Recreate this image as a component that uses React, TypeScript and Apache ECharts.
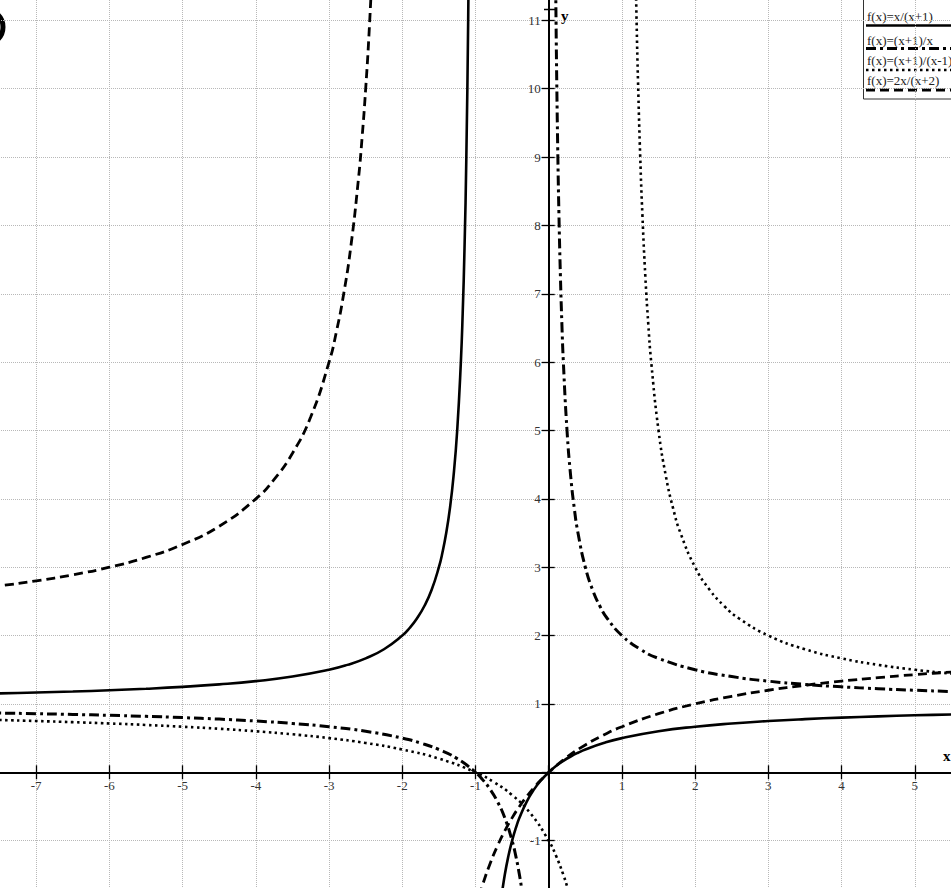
import React, { useEffect, useRef } from "react";
import * as echarts from "echarts";

// f(x) = x/(x+1)
const solidLeft: [number, number][] = [
  [-8, 1.1429], [-7.5, 1.1538], [-7, 1.1667], [-6.5, 1.1818], [-6, 1.2], [-5.5, 1.2222],
  [-5, 1.25], [-4.5, 1.2857], [-4, 1.3333], [-3.5, 1.4], [-3, 1.5], [-2.75, 1.5714],
  [-2.5, 1.6667], [-2.25, 1.8], [-2, 2], [-1.9, 2.1111], [-1.8, 2.25], [-1.7, 2.4286],
  [-1.6, 2.6667], [-1.5, 3], [-1.45, 3.2222], [-1.4, 3.5], [-1.35, 3.8571], [-1.3, 4.3333],
  [-1.25, 5], [-1.2, 6], [-1.175, 6.7143], [-1.15, 7.6667], [-1.125, 9], [-1.1, 11], [-1.09, 12.111],
];
const solidRight: [number, number][] = [
  [-0.65, -1.8571], [-0.6, -1.5], [-0.55, -1.2222], [-0.5, -1], [-0.45, -0.8182], [-0.4, -0.6667],
  [-0.3, -0.4286], [-0.2, -0.25], [-0.1, -0.1111], [0, 0], [0.1, 0.0909], [0.2, 0.1667],
  [0.3, 0.2308], [0.4, 0.2857], [0.5, 0.3333], [0.75, 0.4286], [1, 0.5], [1.5, 0.6],
  [2, 0.6667], [2.5, 0.7143], [3, 0.75], [3.5, 0.7778], [4, 0.8], [4.5, 0.8182], [5, 0.8333],
  [5.5, 0.8462], [6, 0.8571],
];

// f(x) = (x+1)/x
const dashDotLeft: [number, number][] = [
  [-8, 0.875], [-7.5, 0.8667], [-7, 0.8571], [-6.5, 0.8462], [-6, 0.8333], [-5.5, 0.8182],
  [-5, 0.8], [-4.5, 0.7778], [-4, 0.75], [-3.5, 0.7143], [-3, 0.6667], [-2.5, 0.6], [-2, 0.5],
  [-1.75, 0.4286], [-1.5, 0.3333], [-1.25, 0.2], [-1, 0], [-0.9, -0.1111], [-0.8, -0.25],
  [-0.7, -0.4286], [-0.6, -0.6667], [-0.5, -1], [-0.45, -1.2222], [-0.4, -1.5], [-0.36, -1.7778],
  [-0.34, -1.9412],
];
const dashDotRight: [number, number][] = [
  [0.09, 12.111], [0.1, 11], [0.11, 10.0909], [0.125, 9], [0.14, 8.1429], [0.16, 7.25],
  [0.18, 6.5556], [0.2, 6], [0.25, 5], [0.3, 4.3333], [0.35, 3.8571], [0.4, 3.5], [0.5, 3],
  [0.6, 2.6667], [0.7, 2.4286], [0.8, 2.25], [1, 2], [1.25, 1.8], [1.5, 1.6667], [2, 1.5],
  [2.5, 1.4], [3, 1.3333], [3.5, 1.2857], [4, 1.25], [4.5, 1.2222], [5, 1.2], [5.5, 1.1818],
  [6, 1.1667],
];

// f(x) = (x+1)/(x-1)
const dottedLeft: [number, number][] = [
  [-8, 0.7778], [-7.5, 0.7647], [-7, 0.75], [-6.5, 0.7333], [-6, 0.7143], [-5.5, 0.6923],
  [-5, 0.6667], [-4.5, 0.6364], [-4, 0.6], [-3.5, 0.5556], [-3, 0.5], [-2.5, 0.4286],
  [-2, 0.3333], [-1.5, 0.2], [-1, 0], [-0.75, -0.1429], [-0.5, -0.3333], [-0.25, -0.6],
  [0, -1], [0.1, -1.2222], [0.2, -1.5], [0.25, -1.6667], [0.3, -1.8571],
];
const dottedRight: [number, number][] = [
  [1.18, 12.111], [1.2, 11], [1.22, 10.0909], [1.25, 9], [1.28, 8.1429], [1.32, 7.25],
  [1.36, 6.5556], [1.4, 6], [1.5, 5], [1.6, 4.3333], [1.7, 3.8571], [1.8, 3.5], [2, 3],
  [2.2, 2.6667], [2.4, 2.4286], [2.6, 2.25], [3, 2], [3.5, 1.8], [4, 1.6667], [4.5, 1.5714],
  [5, 1.5], [5.5, 1.4444], [6, 1.4],
];

// f(x) = 2x/(x+2)
const dashedLeft: [number, number][] = [
  [-8, 2.6667], [-7.5, 2.7273], [-7, 2.8], [-6.5, 2.8889], [-6, 3], [-5.5, 3.1429],
  [-5, 3.3333], [-4.5, 3.6], [-4, 4], [-3.75, 4.2857], [-3.5, 4.6667], [-3.25, 5.2], [-3, 6],
  [-2.9, 6.4444], [-2.8, 7], [-2.7, 7.7143], [-2.6, 8.6667], [-2.55, 9.2727], [-2.5, 10],
  [-2.45, 10.8889], [-2.4, 12],
];
const dashedRight: [number, number][] = [
  [-0.95, -1.8095], [-0.9, -1.6364], [-0.8, -1.3333], [-0.7, -1.0769], [-0.6, -0.8571],
  [-0.5, -0.6667], [-0.4, -0.5], [-0.3, -0.3529], [-0.2, -0.2222], [-0.1, -0.1053], [0, 0],
  [0.25, 0.2222], [0.5, 0.4], [0.75, 0.5455], [1, 0.6667], [1.5, 0.8571], [2, 1],
  [2.5, 1.1111], [3, 1.2], [3.5, 1.2727], [4, 1.3333], [4.5, 1.3846], [5, 1.4286],
  [5.5, 1.4667], [6, 1.5],
];

const legendNames = ["f(x)=x/(x+1)", "f(x)=(x+1)/x", "f(x)=(x+1)/(x-1)", "f(x)=2x/(x+2)"];

const X_MIN = -8;
const X_MAX = 6;
const Y_MIN = -2;
const Y_MAX = 12;

// The plotting area runs a little past the visible window so that the
// edges fall between whole-unit grid lines; the window crops it.
const VIEW_W = 951;
const VIEW_H = 888;
const OX = 37;
const OY = 48;
const PLOT_W = 1025;
const PLOT_H = 957;

const SERIF = '"Liberation Serif", "Times New Roman", serif';

const styles: { width: number; type: any }[] = [
  { width: 2.6, type: "solid" },
  { width: 3, type: [10, 4, 3, 4] },
  { width: 2.6, type: [2.5, 3.5] },
  { width: 2.8, type: [9, 5] },
];

export default function App() {
  const ref = useRef<HTMLDivElement>(null);

  useEffect(() => {
    if (!ref.current) return;
    const chart = echarts.init(ref.current, undefined, { renderer: "svg" });

    // distances from each plot edge to the zero lines, so the axes can be
    // pulled in to cross at the origin
    const zeroFromLeft = (PLOT_W * (0 - X_MIN)) / (X_MAX - X_MIN);
    const zeroFromRight = PLOT_W - zeroFromLeft;
    const zeroFromTop = (PLOT_H * (Y_MAX - 0)) / (Y_MAX - Y_MIN);
    const zeroFromBottom = PLOT_H - zeroFromTop;

    const labelFmt = (v: number) => (v === 0 ? "" : String(v));
    const gridLine = { show: true, lineStyle: { color: "#b8b8b8", width: 1, type: [1, 1] } };
    const labelStyle = {
      color: "#333",
      fontFamily: SERIF,
      fontSize: 13,
      formatter: labelFmt,
      showMinLabel: false,
      showMaxLabel: false,
    };
    const axisLine = { onZero: false, lineStyle: { color: "#000", width: 2 } };
    const axisTick = { show: true, length: 7, lineStyle: { color: "#000", width: 1.3 } };

    const xAxes = [
      {
        type: "value",
        min: X_MIN,
        max: X_MAX,
        interval: 1,
        position: "bottom",
        offset: -zeroFromBottom,
        axisLine,
        axisTick,
        axisLabel: { ...labelStyle, margin: 7 },
        splitLine: gridLine,
      },
      {
        type: "value",
        min: X_MIN,
        max: X_MAX,
        interval: 1,
        position: "top",
        offset: -zeroFromTop,
        axisLine,
        axisTick,
        axisLabel: { show: false },
        splitLine: { show: false },
      },
    ];

    const yAxes = [
      {
        type: "value",
        min: Y_MIN,
        max: Y_MAX,
        interval: 1,
        position: "left",
        offset: -zeroFromLeft,
        axisLine,
        axisTick,
        axisLabel: { ...labelStyle, margin: 8 },
        splitLine: gridLine,
      },
      {
        type: "value",
        min: Y_MIN,
        max: Y_MAX,
        interval: 1,
        position: "right",
        offset: -zeroFromRight,
        axisLine,
        axisTick: { ...axisTick, length: 6 },
        axisLabel: { show: false },
        splitLine: { show: false },
      },
    ];

    const branches: [number, [number, number][]][] = [
      [0, solidLeft], [0, solidRight],
      [1, dashDotLeft], [1, dashDotRight],
      [2, dottedLeft], [2, dottedRight],
      [3, dashedLeft], [3, dashedRight],
    ];

    const series = branches.map(([k, data]) => ({
      type: "line",
      name: legendNames[k],
      data,
      xAxisIndex: 0,
      yAxisIndex: 0,
      showSymbol: false,
      symbol: "none",
      smooth: true,
      clip: true,
      z: 3,
      lineStyle: { color: "#000", width: styles[k].width, type: styles[k].type, cap: "butt" },
    }));

    const legendRows = [16, 40, 60, 80];
    const legendLines = [25.5, 48.5, 70, 90];
    const legendChildren: any[] = [
      {
        type: "rect",
        shape: { x: 863.5, y: -2, width: 100, height: 101 },
        style: { fill: "#fff", stroke: "#333", lineWidth: 1 },
      },
    ];
    legendNames.forEach((name, i) => {
      legendChildren.push({
        type: "text",
        x: 867,
        y: legendRows[i],
        style: { text: name, fill: "#222", font: `13px ${SERIF}`, verticalAlign: "middle" },
      });
      legendChildren.push({
        type: "line",
        shape: { x1: 866, y1: legendLines[i], x2: 951, y2: legendLines[i] },
        style: {
          stroke: "#000",
          lineWidth: styles[i].width,
          lineDash: Array.isArray(styles[i].type) ? styles[i].type : null,
        },
      });
    });

    chart.setOption({
      animation: false,
      backgroundColor: "#fff",
      grid: {
        left: 0,
        right: 0,
        top: 0,
        bottom: 0,
        containLabel: false,
        outerBoundsMode: "none",
      },
      xAxis: xAxes,
      yAxis: yAxes,
      series,
      graphic: [
        {
          type: "group",
          x: OX,
          y: OY,
          z: 100,
          children: [
            ...legendChildren,
            {
              // white-out above the top end of the y axis, with its end cap
              type: "rect",
              shape: { x: 546, y: -2, width: 6, height: 11 },
              style: { fill: "#fff" },
            },
            {
              type: "line",
              shape: { x1: 544, y1: 9.5, x2: 556, y2: 9.5 },
              style: { stroke: "#000", lineWidth: 1.5 },
            },
            {
              type: "text",
              x: 561,
              y: 16,
              style: { text: "y", fill: "#000", font: `bold 15px ${SERIF}`, verticalAlign: "middle" },
            },
            {
              type: "text",
              x: 943,
              y: 756,
              style: { text: "x", fill: "#000", font: `bold 15px ${SERIF}`, verticalAlign: "middle" },
            },
            {
              // edge of a bracket cropped at the left border
              type: "arc",
              shape: { cx: -14, cy: 27, r: 17, startAngle: -1.0, endAngle: 1.0 },
              style: { stroke: "#000", lineWidth: 5, fill: "none" },
            },
          ],
        },
      ],
    });

    return () => chart.dispose();
  }, []);

  return (
    <div
      style={{
        position: "fixed",
        left: 0,
        top: 0,
        width: VIEW_W,
        height: VIEW_H,
        overflow: "hidden",
        background: "#fff",
      }}
    >
      <div
        ref={ref}
        style={{ position: "absolute", left: -OX, top: -OY, width: PLOT_W, height: PLOT_H }}
      />
    </div>
  );
}
